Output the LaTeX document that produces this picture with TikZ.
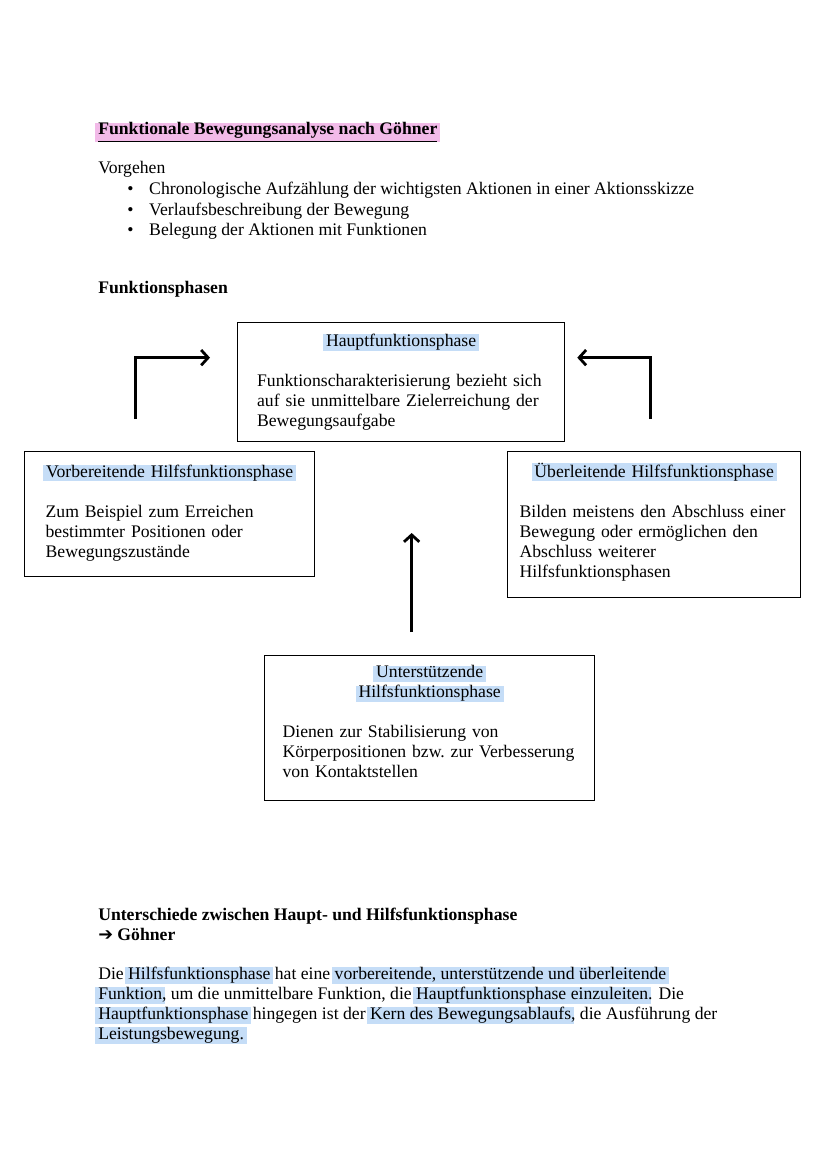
\documentclass[tikz,border=0pt]{standalone}
\usepackage{fontspec}
\setmainfont{Liberation Serif}
\newfontfamily\symfont{DejaVu Sans}
\usepackage{xcolor}
\usetikzlibrary{calc,arrows.meta,positioning}

\definecolor{hlblue}{RGB}{197,221,247}
\definecolor{hlpink}{RGB}{242,186,232}

% highlighter pens
\newcommand\hlb[1]{{\setlength{\fboxsep}{0pt}\kern-2pt\colorbox{hlblue}{\hspace{2pt}\rule[-3pt]{0pt}{11pt}#1\hspace{2pt}}\kern-2pt}}
\newcommand\hlp[1]{{\setlength{\fboxsep}{0pt}\kern-2pt\colorbox{hlpink}{\hspace{2pt}\rule[-3pt]{0pt}{11pt}#1\hspace{2pt}}\kern-2pt}}
\newcommand\phasetitle[1]{\makebox[\hsize]{\hlb{#1}}}

\tikzset{
  every node/.style={font=\fontsize{12.7}{14.38}\selectfont},
  txt/.style={anchor=base west, inner sep=0pt},
  phase/.style={draw, line width=0.9pt, align=left, anchor=north west, inner ysep=0pt},
  flow/.style={-{Straight Barb[length=5pt,width=11pt,line width=2pt]}, line width=2pt},
}

\begin{document}
\begin{tikzpicture}[x=0.71896pt, y=-0.71896pt]
\useasboundingbox (0,0) rectangle (828,1173);

% heading and list
\node[txt] (title) at (98,135) {\hlp{\underline{\textbf{Funktionale Bewegungsanalyse nach Göhner}}}};
\node[txt] (vorgehen) at (98,174) {Vorgehen};
\foreach \y/\t in {195/Chronologische Aufzählung der wichtigsten Aktionen in einer Aktionsskizze,
                   216/Verlaufsbeschreibung der Bewegung,
                   236/Belegung der Aktionen mit Funktionen}
  \node[txt] (item\y) at (127,\y) {\makebox[15.8pt][l]{\textbullet}\t};
\node[txt] (phasen) at (98,294) {\textbf{Funktionsphasen}};

% the four phases
\node[phase, text width=207.1pt, inner xsep=14pt, minimum height=85.6pt] (haupt) at (237,322)
  {\phasetitle{Hauptfunktionsphase}\\[14.38pt]
   Funktionscharakterisierung bezieht sich\\
   auf sie unmittelbare Zielerreichung der\\
   Bewegungsaufgabe};
\node[phase, text width=178.3pt, inner xsep=15.1pt, minimum height=89.9pt] (vor) at (24,451)
  {\phasetitle{Vorbereitende Hilfsfunktionsphase}\\[14.38pt]
   Zum Beispiel zum Erreichen\\
   bestimmter Positionen oder\\
   Bewegungszustände\par\kern2pt};
\node[phase, text width=193.4pt, inner xsep=8.63pt, minimum height=105pt] (ueber) at (507,451)
  {\phasetitle{Überleitende Hilfsfunktionsphase}\\[14.38pt]
   Bilden meistens den Abschluss einer\\
   Bewegung oder ermöglichen den\\
   Abschluss weiterer\\
   Hilfsfunktionsphasen\par\kern4pt};
\node[phase, text width=211.4pt, inner xsep=12.95pt, minimum height=104.3pt] (unter) at (264,655)
  {\phasetitle{Unterstützende}\\
   \phasetitle{Hilfsfunktionsphase}\\[14.38pt]
   Dienen zur Stabilisierung von\\
   Körperpositionen bzw.\ zur Verbesserung\\
   von Kontaktstellen\par\kern9pt};

% arrow ends
\coordinate (vorout) at ($(vor.north)+(-34,-32)$);
\coordinate (hauptinl) at ($(haupt.west)+(-27,-24.5)$);
\coordinate (ueberout) at ($(ueber.north)+(-3.5,-32)$);
\coordinate (hauptinr) at ($(haupt.east)+(12,-24.5)$);
\coordinate (unterout) at ($(unter.north)+(-18,-23)$);
\coordinate (hauptinb) at ($(unter.north)+(-18,-122)$);

\draw[flow] (vorout) |- (hauptinl);
\draw[flow] (ueberout) |- (hauptinr);
\draw[flow] (unterout) -- (hauptinb);

% differences
\node[txt] (diff) at (98,920) {\textbf{Unterschiede zwischen Haupt- und Hilfsfunktionsphase}};
\node[txt] (goehner) at (98,940) {\textbf{{\symfont\fontsize{12.7}{14}\selectfont ➔} Göhner}};
\node[txt, align=left, anchor=north west] (text) at (98,967)
  {Die \hlb{Hilfsfunktionsphase} hat eine \hlb{vorbereitende, unterstützende und überleitende}\\
   \hlb{Funktion}, um die unmittelbare Funktion, die \hlb{Hauptfunktionsphase einzuleiten}. Die\\
   \hlb{Hauptfunktionsphase} hingegen ist der \hlb{Kern des Bewegungsablaufs}, die Ausführung der\\
   \hlb{Leistungsbewegung.}};
\end{tikzpicture}
\end{document}
